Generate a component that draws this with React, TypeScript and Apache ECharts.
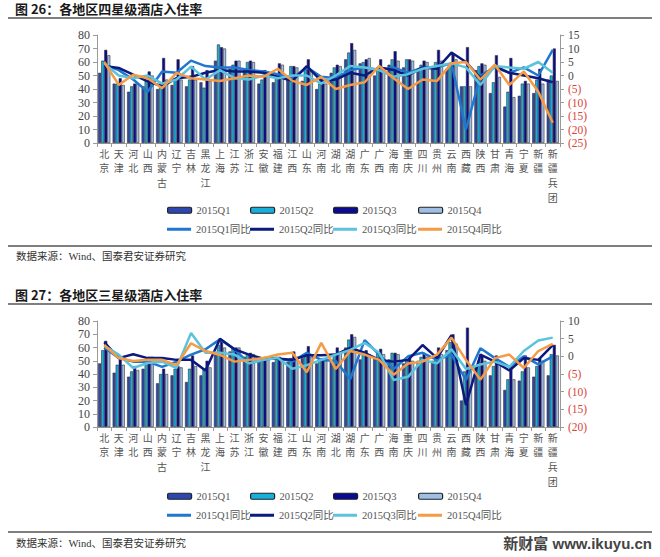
import React, { useEffect, useRef } from 'react';
import * as echarts from 'echarts';

const categories = ['北京','天津','河北','山西','内蒙古','辽宁','吉林','黑龙江','上海','江苏','浙江','安徽','福建','江西','山东','河南','湖北','湖南','广东','广西','海南','重庆','四川','贵州','云南','西藏','陕西','甘肃','青海','宁夏','新疆','新疆兵团'];

const barNames = ['2015Q1', '2015Q2', '2015Q3', '2015Q4'];
const lineNames = ['2015Q1同比', '2015Q2同比', '2015Q3同比', '2015Q4同比'];

// 图26 四星级 入住率 (%)
const top4Q1 = [52,44,38,42,40,43,42,45,61,55,54,44,45,47,46,40,52,62,59,50,58,56,54,57,55,42,54,37,27,35,37,47];
const top4Q2 = [61,44,42,46,44,48,47,41,73,58,60,47,50,57,56,44,56,67,60,55,62,62,58,60,58,42,57,45,38,44,47,50];
const top4Q3 = [69,48,44,53,63,62,57,54,71,61,61,54,59,57,62,48,58,74,62,62,68,62,61,69,66,71,59,65,63,46,55,70];
const top4Q4 = [65,43,44,50,47,47,47,46,70,61,60,52,58,56,54,44,57,69,63,56,61,61,60,61,62,42,58,49,34,44,44,46];
// 图26 同比 (百分点)
const top4Y1 = [4,2,-1.5,-6,1.5,1,5.5,3.5,3,3,2,1.5,0.5,-1,3,-0.5,-1,2,3,2,3,1,3,3,4.5,-20,0,3,1,3,0,9.5];
const top4Y2 = [3.5,2.8,0.3,-2.2,-4,-1,-0.5,1,2,1.5,1.5,1,-0.5,-2,3.5,-2,-1.5,1,0,3,2,0,3,2.5,8.5,5,-1,3.5,1,0,-1,-2.5];
const top4Y3 = [4.5,0,-1,0,-3,-1.5,3.3,-1.5,2,-1,-1.5,0,-1,0,0,-3,0,3.5,3,2,-0.5,0.5,2.5,3.5,4.5,3,-3.5,3.5,3,2.5,5,1];
const top4Y4 = [5,-3.5,0.3,-1,-4.7,1,-1,-1.5,-2,-1,0,-0.5,2.5,-2,-3.5,-0.5,-5,-3.5,-2.5,3.5,-1,-5,-1.5,-2,4.5,5,-1.5,4,-3.5,1.5,-6,-17.5];

// 图27 三星级 入住率 (%)
const bot3Q1 = [48,41,38,44,33,39,34,39,55,57,53,49,49,49,52,48,50,60,51,52,51,48,50,50,58,20,45,39,28,35,38,39];
const bot3Q2 = [58,47,42,49,40,44,44,44,62,60,55,52,53,52,54,51,55,66,57,56,56,50,53,54,64,42,50,46,36,42,46,55];
const bot3Q3 = [65,52,46,53,44,46,54,50,66,60,56,53,53,57,61,52,60,70,58,59,56,52,56,60,70,75,54,54,46,54,52,62];
const bot3Q4 = [58,47,43,53,40,45,46,45,60,60,55,52,52,53,53,50,56,68,55,55,55,50,53,55,63,42,50,48,36,45,50,54];
// 图27 同比 (百分点)
const bot3Y1 = [2.5,-0.5,-1.5,-1.5,-3,-1.5,0.5,2,4.8,2,-2,-1,-0.5,-1.5,1,-1,-1.3,-6.5,4.6,0.5,-3.6,0,1,-1,0.5,-6.7,2.3,-0.5,-3,0,-2.3,0];
const bot3Y2 = [4,-0.5,0.6,-0.5,-0.5,-1,-1,-4,5,2,0.5,-0.7,-0.7,-1,0.3,0.3,0.5,2.4,1,-1,-1.5,-1,3.2,-0.5,6,-13.8,0.5,-1.5,-4,-0.5,-1,3.2];
const bot3Y3 = [3,0.5,-3.3,-1.9,-1.5,-3.3,6.6,1,1,0.5,-2,-1,-0.5,-3.5,-2.5,-1,0.5,1.8,3.8,1,-6.7,-5.8,-1,-2,2,-3.6,-2.3,-1.5,-3,1.5,4.5,5.3];
const bot3Y4 = [3.2,-0.5,-1.3,-1,-1,-2.5,3.7,1.5,0.4,-1.5,-1,-0.5,0.5,1,-4.5,3.8,-3.6,1.5,0.5,-1,-5.2,-2,-1.5,0.5,5.3,-1,-6.6,-0.5,0.5,-3.3,1.5,3.5];

const barColors = ['#2c48b0', '#17b0dc', '#0a0a92', '#a0bfe4'];
const lineColors = ['#1f77cf', '#0b1a7e', '#5cc3dc', '#f59b45'];

const SERIF = "'Liberation Serif','Noto Sans CJK SC',serif";
const CJK = "'Noto Sans CJK SC',sans-serif";

function buildOption() {
  const axisGray = '#9a9a9a';
  const xAxis = [0, 1].map((g) => ({
    type: 'category',
    gridIndex: g,
    data: categories,
    axisLine: { lineStyle: { color: axisGray } },
    axisTick: { show: true, length: 4, lineStyle: { color: axisGray } },
    axisLabel: {
      interval: 0,
      margin: 3,
      fontSize: 10,
      lineHeight: 14.6,
      color: '#555',
      fontFamily: CJK,
      formatter: (v: string) => v.split('').join('\n'),
    },
  }));
  const leftAxis = (g: number) => ({
    type: 'value',
    gridIndex: g,
    position: 'left',
    min: 0,
    max: 80,
    interval: 10,
    axisLine: { show: true, lineStyle: { color: axisGray } },
    axisTick: { show: true, length: 4, lineStyle: { color: axisGray } },
    splitLine: { show: false },
    axisLabel: { fontSize: 12, color: '#444', fontFamily: SERIF, margin: 7 },
  });
  const rightAxis = (g: number, min: number, max: number) => ({
    type: 'value',
    gridIndex: g,
    position: 'right',
    min,
    max,
    interval: 5,
    axisLine: { show: true, lineStyle: { color: axisGray } },
    axisTick: { show: true, length: 4, lineStyle: { color: axisGray } },
    splitLine: { show: false },
    axisLabel: {
      margin: 8,
      fontFamily: SERIF,
      fontSize: 11.5,
      formatter: (v: number) => (v < 0 ? `{n|(${-v})}` : `{p|${v}}`),
      rich: {
        p: { color: '#444', fontSize: 11.5, fontFamily: SERIF },
        n: { color: '#d8433a', fontSize: 11.5, fontFamily: SERIF },
      },
    },
  });
  const yAxis = [leftAxis(0), rightAxis(0, -25, 15), leftAxis(1), rightAxis(1, -20, 10)];

  const series: any[] = [];
  const addChart = (g: number, bars: number[][], lines: number[][]) => {
    bars.forEach((d, i) => {
      series.push({
        name: barNames[i],
        type: 'bar',
        xAxisIndex: g,
        yAxisIndex: g * 2,
        data: d,
        barGap: '0%',
        barCategoryGap: '16%',
        itemStyle: { color: barColors[i], borderColor: '#333', borderWidth: 0.6 },
      });
    });
    lines.forEach((d, i) => {
      series.push({
        name: lineNames[i],
        type: 'line',
        xAxisIndex: g,
        yAxisIndex: g * 2 + 1,
        data: d,
        symbol: 'none',
        z: 3 + i,
        lineStyle: { width: 2.5, color: lineColors[i] },
        itemStyle: { color: lineColors[i] },
      });
    });
  };
  addChart(0, [top4Q1, top4Q2, top4Q3, top4Q4], [top4Y1, top4Y2, top4Y3, top4Y4]);
  addChart(1, [bot3Q1, bot3Q2, bot3Q3, bot3Q4], [bot3Y1, bot3Y2, bot3Y3, bot3Y4]);

  const legendX = [167, 250, 333, 418];
  const legend: any[] = [];
  const addLegends = (rowTop1: number, rowTop2: number) => {
    barNames.forEach((n, i) => {
      legend.push({
        data: [n],
        left: legendX[i],
        top: rowTop1,
        padding: 0,
        itemWidth: 24,
        itemHeight: 6,
        selectedMode: false,
        itemStyle: { borderColor: '#222', borderWidth: 1.2 },
        textStyle: { fontSize: 10.5, color: '#555', fontFamily: SERIF },
      });
    });
    lineNames.forEach((n, i) => {
      legend.push({
        data: [{ name: n, icon: 'rect' }],
        left: legendX[i],
        top: rowTop2,
        padding: 0,
        itemWidth: 24,
        itemHeight: 3,
        selectedMode: false,
        itemStyle: { color: lineColors[i], borderWidth: 0 },
        textStyle: { fontSize: 10.5, color: '#555', fontFamily: SERIF },
      });
    });
  };
  addLegends(205, 224);
  addLegends(491, 510);

  const titleStyle = { fontSize: 13, fontWeight: 'bold', fill: '#1a1a1a', fontFamily: CJK };
  const srcStyle = { fontSize: 10.5, fill: '#333', fontFamily: SERIF };
  const rule = (y: number) => ({
    type: 'line',
    shape: { x1: 8, y1: y, x2: 652, y2: y },
    style: { stroke: '#555', lineWidth: 1.5 },
  });
  const graphic = [
    { type: 'text', left: 15, top: 2, style: { text: '图 26：各地区四星级酒店入住率', ...titleStyle } },
    rule(18),
    rule(246),
    { type: 'text', left: 16, top: 251, style: { text: '数据来源：Wind、国泰君安证券研究', ...srcStyle } },
    { type: 'text', left: 15, top: 288, style: { text: '图 27：各地区三星级酒店入住率', ...titleStyle } },
    rule(304),
    rule(532),
    { type: 'text', left: 16, top: 538, style: { text: '数据来源：Wind、国泰君安证券研究', ...srcStyle } },
    {
      type: 'text',
      right: 8,
      top: 536,
      style: { text: '新财富 www.ikuyu.cn', fontSize: 15, fontWeight: 'bold', fill: '#444', fontFamily: "'Liberation Sans','Noto Sans CJK SC',sans-serif" },
    },
  ];

  return {
    animation: false,
    backgroundColor: '#ffffff',
    grid: [
      { left: 97, top: 35, width: 463, height: 108 },
      { left: 97, top: 321, width: 463, height: 106 },
    ],
    xAxis,
    yAxis,
    legend,
    series,
    graphic,
  };
}

export default function App() {
  const ref = useRef<HTMLDivElement>(null);
  useEffect(() => {
    document.body.style.margin = '0';
    if (!ref.current) return;
    const chart = echarts.init(ref.current, null, { renderer: 'svg' });
    chart.setOption(buildOption() as any);
    return () => chart.dispose();
  }, []);
  return (
    <div
      ref={ref}
      style={{ position: 'absolute', left: 0, top: 0, width: 660, height: 557, background: '#fff' }}
    />
  );
}
